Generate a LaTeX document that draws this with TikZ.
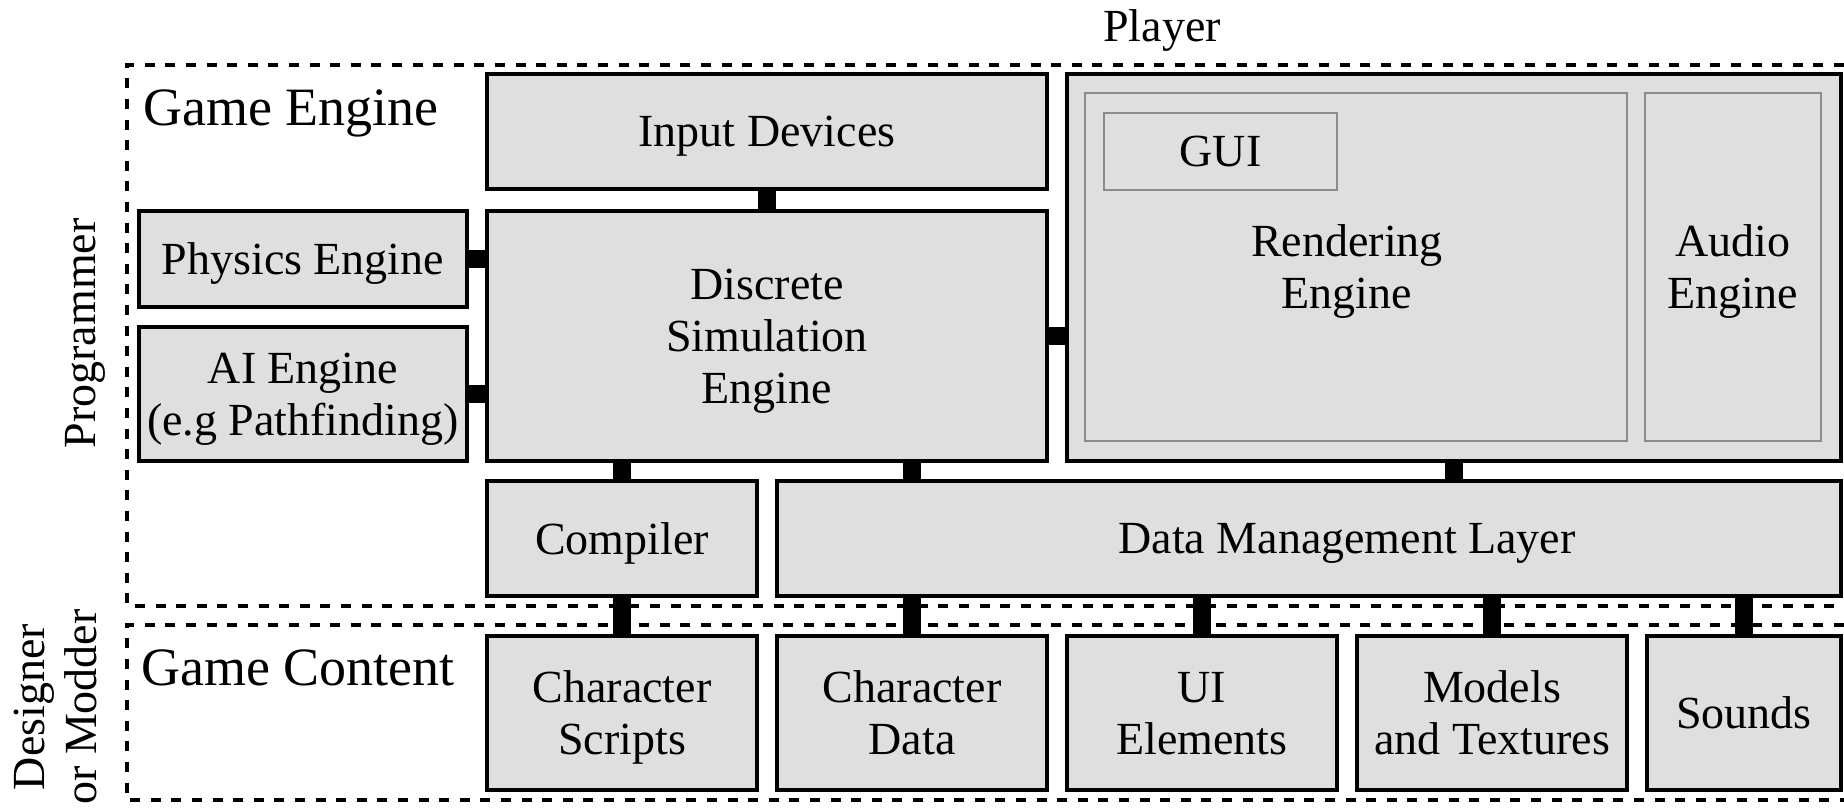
\documentclass[tikz,border=0pt]{standalone}
\usepackage{fontspec}
\setmainfont{Liberation Serif}
\usepackage{tikz}
\usetikzlibrary{positioning}

\begin{document}
\begin{tikzpicture}[x=1pt, y=-1pt,
	box/.style={draw, line width=1.6pt, fill=gray!25, inner sep=0pt, outer sep=0pt,
		align=center, text depth=0pt, font=\fontsize{23}{26}\selectfont},
	subbox/.style={box, draw=gray!90, line width=0.7pt},
	content/.style={box, minimum width=135pt, minimum height=77pt},
	link/.style={line width=9pt},
	zone/.style={line width=1.6pt, dash pattern=on 5pt off 5.3pt},
	zonelabel/.style={inner sep=0pt, font=\fontsize{27}{30}\selectfont},
	role/.style={inner sep=0pt, align=center, font=\fontsize{23}{26}\selectfont}]
					\useasboundingbox (0,0) rectangle (922,404);
					% Zones
					\draw[zone] (922,32.5) -| (63.5,303) -- (922,303);
					\draw[zone] (922,312.5) -| (63.5,400) -- (922,400);
					\node[zonelabel, anchor=base west] (enginelabel) at (71.5,62.7) {Game Engine};
					\node[zonelabel, anchor=base west] (contentlabel) at (70.5,342.7) {Game Content};
					% Roles
					\node[role] (player) at (581,15.5) {Player};
					\node[role, rotate=90, anchor=base] (programmer) at (47.5,166.7) {Programmer};
					\node[role, rotate=90] (designer) at (27.8,353.5) {Designer\\or Modder};
					% Input block
					\node[box,
					anchor=north west,
					minimum width=280pt,
					minimum height=57.5pt] (input) at (243.5,37) {Input Devices};
					% Simulation block
					\node[box,
					below=11pt of input,
					minimum width=280pt,
					minimum height=125pt] (dse) {Discrete\\Simulation\\Engine};
					% Physics and AI blocks
					\node[box,
					below left=0pt and 10pt of dse.north west,
					minimum width=164pt,
					minimum height=48pt] (physics) {Physics Engine};
					\node[box,
					below=10pt of physics,
					minimum width=164pt,
					minimum height=67pt] (ai) {AI Engine\\(e.g Pathfinding)};
					% Output block
					\node[box,
					below right=0pt and 10pt of input.north east,
					minimum width=387pt,
					minimum height=193.5pt] (render) {};
					\node[subbox,
					below right=9.5pt and 9pt of render.north west,
					minimum width=271pt,
					minimum height=174pt] (rendering) {\hspace*{-9pt}Rendering\\\hspace*{-9pt}Engine};
					\node[subbox,
					right=9pt of rendering,
					minimum width=88pt,
					minimum height=174pt] (audio) {Audio\\Engine};
					\node[subbox,
					below right=10pt and 9.5pt of rendering.north west,
					minimum width=116.5pt,
					minimum height=38.5pt] (gui) {GUI};
					% Compiler and data blocks
					\node[box,
					below right=10pt and 0pt of dse.south west,
					minimum width=135pt,
					minimum height=57.5pt] (compiler) {Compiler};
					\node[box,
					right=10pt of compiler,
					minimum width=532pt,
					minimum height=57.5pt] (dml) {\hspace*{38pt}Data Management Layer};
					% Content blocks
					\node[content, below=20pt of compiler] (scripts) {Character\\Scripts};
					\node[content, right=10pt of scripts] (chardata) {Character\\Data};
					\node[content, right=10pt of chardata] (uielem) {UI\\Elements};
					\node[content, right=10pt of uielem] (models) {Models\\and Textures};
					\node[content, right=10pt of models, minimum width=97pt] (sounds) {Sounds};
					% Links
					\draw[link] (input) -- (dse);
					\draw[link] (physics) -- (physics -| dse.west);
					\draw[link] (ai) -- (ai -| dse.west);
					\draw[link] (dse) -- (dse -| render.west);
					\draw[link] (compiler) -- (compiler |- dse.south);
					\draw[link] (chardata |- dml.north) -- (chardata |- dse.south);
					\draw[link] (render) -- (render |- dml.north);
					\draw[link] (compiler) -- (scripts);
					\foreach \part in {chardata, uielem, models, sounds}
					\draw[link] (\part) -- (\part |- dml.south);
\end{tikzpicture}
\end{document}
